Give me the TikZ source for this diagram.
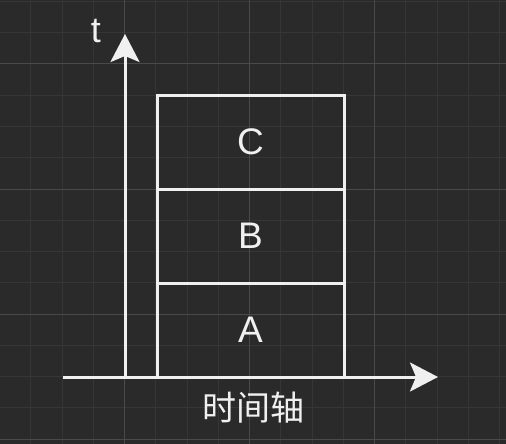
\documentclass[tikz,border=0pt]{standalone}
\usepackage{fontspec}
\setmainfont{Liberation Sans}
\newfontfamily\cjk{Noto Sans CJK SC}
\usepackage{tikz}
\usetikzlibrary{arrows.meta,positioning}

\definecolor{bgcol}{HTML}{2A2A2A}
\definecolor{minorcol}{HTML}{363636}
\definecolor{majorcol}{HTML}{4A4A4A}
\definecolor{inkcol}{HTML}{F0F0F0}

\tikzset{
  blk/.style={draw=inkcol, line width=3pt, minimum width=187pt, minimum height=94pt,
    inner sep=0pt, outer sep=0pt, text=inkcol, font=\fontsize{37}{42}\selectfont},
  axis/.style={draw=inkcol, line width=3pt,
    -{Stealth[length=28pt,width=29pt,inset=6pt,fill=inkcol]}},
  lbl/.style={text=inkcol, inner sep=0pt, font=\fontsize{34}{40}\selectfont}
}

\begin{document}
\begin{tikzpicture}[x=1pt,y=-1pt]
\fill[bgcol] (0,0) rectangle (506,444);
\useasboundingbox (0,0) rectangle (506,444);
% grid
\foreach \i in {0,...,16} {
  \draw[minorcol, line width=1pt] (-0.5+31.25*\i,0) -- (-0.5+31.25*\i,444);
  \draw[minorcol, line width=1pt] (0,1.5+31.25*\i) -- (506,1.5+31.25*\i);
}
\foreach \i in {0,...,3} {
  \draw[majorcol, line width=1pt] (124.5+125*\i-125,0) -- (124.5+125*\i-125,444);
  \draw[majorcol, line width=1pt] (0,64+125*\i) -- (506,64+125*\i);
}
% blocks
\node[blk] (A) at (250.5,330) {A};
\node[blk, above=0pt of A] (B) {B};
\node[blk, above=0pt of B] (C) {C};
% axes
\coordinate (xs) at (63,377);
\coordinate (xe) at (438,377);
\coordinate (ys) at (125,377);
\coordinate (ye) at (125,34);
\draw[axis] (xs) -- (xe);
\draw[axis] (ys) -- (ye);
\node[lbl, font=\fontsize{36}{40}\selectfont] (tlab) at (96,31) {t};
\node[lbl] (xlab) at (253,408) {\cjk 时间轴};
\end{tikzpicture}
\end{document}
